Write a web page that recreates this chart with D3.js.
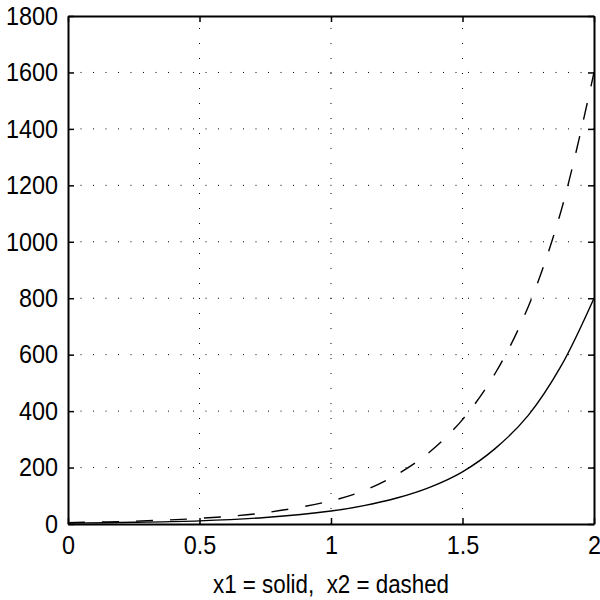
<!DOCTYPE html>
<html>
<head>
<meta charset="utf-8">
<script src="https://cdn.jsdelivr.net/npm/d3@7"></script>
<style>
  body { margin: 0; background: #fff; }
  svg { display: block; }
  text { font-family: "Liberation Sans", Arial, sans-serif; fill: #000; }
</style>
</head>
<body>
<div id="chart"></div>
<script>
  // time samples and the two responses
  var tValues = [0, 0.25, 0.5, 0.75, 1, 1.125, 1.25, 1.375, 1.5, 1.625, 1.75, 1.875, 2];
  var x1Values = [3, 6, 11, 23, 46, 65, 92, 130, 185, 268, 385, 560, 800];
  var x2Values = [5, 10, 20, 40, 82, 118, 175, 255, 370, 535, 770, 1110, 1600];

  var xTicks = [0, 0.5, 1, 1.5, 2];
  var yTicks = [0, 200, 400, 600, 800, 1000, 1200, 1400, 1600, 1800];
  var xLabel = 'x1 = solid,  x2 = dashed';

  var width = 600;
  var height = 600;
  var margin = {top: 16, right: 6, bottom: 76, left: 68};
  var textScale = 0.9;

  var svg = d3.select('#chart').append('svg')
      .attr('width', width)
      .attr('height', height);

  var x = d3.scaleLinear().domain([0, 2]).range([margin.left, width - margin.right]);
  var y = d3.scaleLinear().domain([0, 1800]).range([height - margin.bottom, margin.top]);

  var x0 = x.range()[0], xN = x.range()[1];
  var y0 = y.range()[0], yN = y.range()[1];

  // dotted grid
  svg.append('g').selectAll('line.vgrid').data(xTicks.slice(1, -1)).enter().append('line')
      .attr('class', 'vgrid')
      .attr('x1', function (d) { return x(d); })
      .attr('x2', function (d) { return x(d); })
      .attr('y1', y0)
      .attr('y2', yN)
      .attr('stroke', '#000')
      .attr('stroke-width', 1)
      .attr('stroke-dasharray', '1,14');

  svg.append('g').selectAll('line.hgrid').data(yTicks.slice(1, -1)).enter().append('line')
      .attr('class', 'hgrid')
      .attr('x1', x0)
      .attr('x2', xN)
      .attr('y1', function (d) { return y(d); })
      .attr('y2', function (d) { return y(d); })
      .attr('stroke', '#000')
      .attr('stroke-width', 1)
      .attr('stroke-dasharray', '1,11.5');

  // curves
  var line = function (values) {
    return d3.line()
        .x(function (d, i) { return x(tValues[i]); })
        .y(function (d) { return y(d); })
        .curve(d3.curveCatmullRom.alpha(0.5))(values);
  };

  svg.append('path')
      .attr('d', line(x1Values))
      .attr('fill', 'none')
      .attr('stroke', '#000')
      .attr('stroke-width', 1.4);

  svg.append('path')
      .attr('d', line(x2Values))
      .attr('fill', 'none')
      .attr('stroke', '#000')
      .attr('stroke-width', 1.4)
      .attr('stroke-dasharray', '17,17');

  // axes box with inward ticks
  var tickLen = 6;
  var bottomAxis = d3.axisBottom(x).tickValues(xTicks).tickSizeInner(-tickLen).tickSizeOuter(0)
      .tickPadding(12).tickFormat(d3.format('~g'));
  var topAxis = d3.axisTop(x).tickValues(xTicks).tickSizeInner(-tickLen).tickSizeOuter(0).tickFormat('');
  var leftAxis = d3.axisLeft(y).tickValues(yTicks).tickSizeInner(-tickLen).tickSizeOuter(0)
      .tickPadding(10).tickFormat(d3.format('d'));
  var rightAxis = d3.axisRight(y).tickValues(yTicks).tickSizeInner(-tickLen).tickSizeOuter(0).tickFormat('');

  var styleAxis = function (g) {
    g.selectAll('.domain').attr('stroke', '#000').attr('stroke-width', 2);
    g.selectAll('.tick line').attr('stroke', '#000').attr('stroke-width', 1.5);
    g.selectAll('.tick text')
        .attr('font-size', 26)
        .attr('font-family', '"Liberation Sans", Arial, sans-serif')
        .attr('fill', '#000');
  };

  svg.append('g').attr('transform', 'translate(0,' + y0 + ')').call(bottomAxis).call(styleAxis);
  svg.append('g').attr('transform', 'translate(0,' + yN + ')').call(topAxis).call(styleAxis);
  svg.append('g').attr('transform', 'translate(' + x0 + ',0)').call(leftAxis).call(styleAxis);
  svg.append('g').attr('transform', 'translate(' + xN + ',0)').call(rightAxis).call(styleAxis);

  // squeeze the tick text horizontally like the source
  svg.selectAll('.tick text').each(function () {
    var t = d3.select(this);
    var tx = +t.attr('x') || 0;
    t.attr('transform', 'translate(' + tx + ',0) scale(' + textScale + ',1) translate(' + (-tx) + ',0)');
  });

  svg.append('text')
      .attr('transform', 'translate(' + ((x0 + xN) / 2) + ',593) scale(0.86,1)')
      .attr('text-anchor', 'middle')
      .attr('font-size', 26)
      .style('white-space', 'pre')
      .text(xLabel);
</script>
</body>
</html>
